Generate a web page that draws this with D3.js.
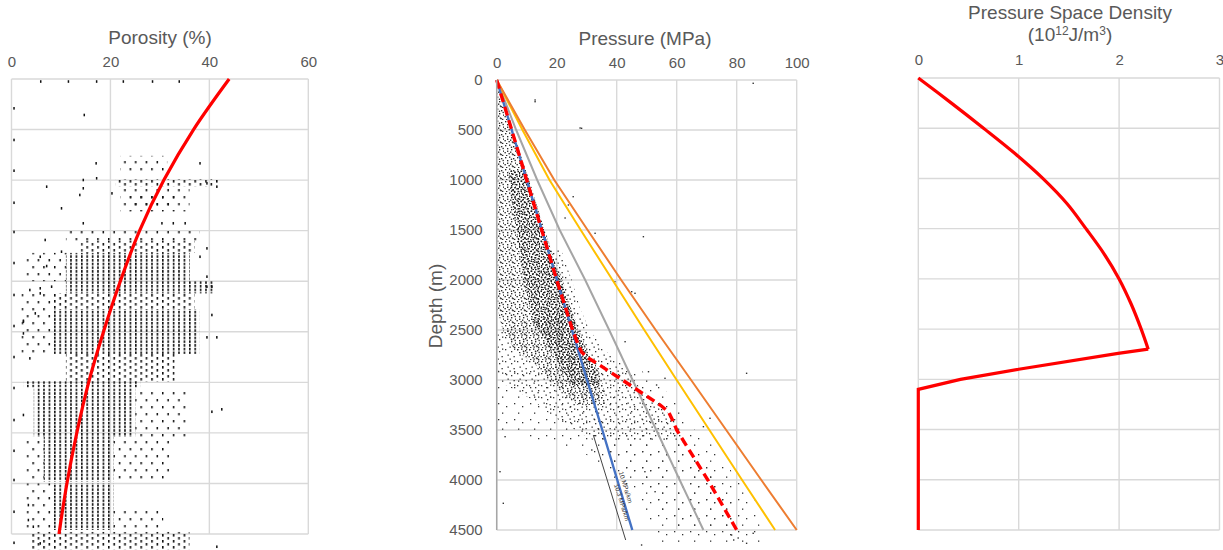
<!DOCTYPE html>
<html><head><meta charset="utf-8">
<script src="https://cdn.jsdelivr.net/npm/d3@7"></script>
<style>body{margin:0;background:#fff;} svg{display:block;font-family:"Liberation Sans", Arial, sans-serif;}</style>
</head><body><svg id="c" width="1223" height="550"></svg>
<script>
// ================= DATA =================
const depthTicks = [0,500,1000,1500,2000,2500,3000,3500,4000,4500];
const porosityTicks = [0,20,40,60];
const pressureTicks = [0,20,40,60,80,100];
const densityTicks = [0,1,2,3];

// Porosity trend (red curve)
const porTrendDepth = [0,500,1000,1500,2000,2500,3000,3500,4000,4500];
const porTrendValue = [44.0,36.8,30.8,25.9,22.0,18.6,15.6,13.2,11.2,9.6];

// Porosity scatter: clusters of dot columns [depthTop, depthBottom, porMin, porMax, density]
const porosityZones = [
  [760,930,22,31.5,'s'],[990,1060,21,42,'m'],[1080,1310,22,36,'s'],[1150,1300,24,33,'s'],
  [1500,1600,11,38,'s'],[1600,1720,14,37,'m'],[1720,2000,11,36,'d'],[1720,2000,3,11,'s'],
  [2000,2120,11,41,'d'],[2120,2280,8,37,'m'],[2280,2720,8,38,'d'],[2120,2720,2,8,'s'],
  [2720,2990,11,33,'m'],[2990,3050,2.5,26,'d'],[3060,3540,4.5,25,'d'],[3060,3540,25,35.5,'s'],
  [3540,3980,6.5,20.6,'d'],[3540,3980,20.6,32,'s'],[3540,3980,3,6.5,'s'],
  [4000,4460,8.5,20.6,'d'],[4000,4460,3,8.5,'s'],[4250,4460,20.6,30.7,'s'],[4480,4650,3.8,36,'m']
];
// Porosity individual points [porosity, depth]
const porosityPoints = [
  [0.5,290],[0.5,603],[0.5,907],[0.5,1224],[0.5,1513],[0.5,1820],[0.5,2136],[0.5,2443],[0.5,2750],
  [0.5,3056],[0.5,3373],[0.5,3677],[0.5,3966],[0.5,4280],[0.5,4587],
  [5.9,25],[11.5,25],[17.2,25],[22.6,25],[28.5,25],[33.9,25],
  [14.7,356],[17.1,834],[38.1,834],[7.1,1065],[14.5,999],[14.5,1081],[13.8,1147],[10.1,1279],[17.2,982],
  [20.3,1131],[41.5,1065],[39.5,1032],[14.5,1427],[30.4,1427],[32.7,1427],[35.1,1427],[6.8,1592],
  [5.8,1758],[7.1,1850],[10.1,1708],[3.7,2087],[5.8,2070],[8.1,2054],[2.4,2400],[4.8,2318],
  [39.5,2054],[40.5,2054],[40.5,2334],[39.5,1955],[38.1,1758],[39.5,1675],[5.8,2120],[41.5,2555],
  [39.5,2555],[2.4,2391],[2.4,2516],[3.7,2763],[40.5,3291],[42.5,3267],[2.4,3323],[3.4,4214],
  [3.4,4362],[4.4,4428],[41.5,4626],[5.8,4593]
];

// Pressure lines (depth in m, pressure in MPa)
const pressureDepth = [0,500,1000,1500,2000,2500,3000,3500,4000,4500];
const orangeP = [0,9.4,19.2,30.3,41.5,53.0,64.8,76.5,88.2,100];
const yellowP = [0,8.6,17.6,28.0,38.6,49.2,60.0,70.9,81.8,92.8];
const grayP   = [0,6.5,13.5,21.0,29.5,37.5,45.3,53.2,61.0,68.9];
const blueP   = [0,5.0,10.0,15.1,20.1,25.1,30.1,35.2,40.2,45.2];
const redDepth = [0,500,1000,1500,2000,2500,2650,2720,2780,2850,3070,3250,3320,3400,3500,4000,4500];
const redP     = [0,5.0,10.0,15.0,20.0,25.3,27.2,28.3,30.5,34.3,45.4,54.5,57.3,58.6,60.0,70.4,80.0];
const blackDepth = [3550,4600];
const blackP = [32.2,43.0];
const gradientLabels = ['10 MPa/km','10.3 MPa/km'];
const gradientLabelDepth = [4080,4230];
const gradientLabelP = [42.3,41.0];

// Pressure scatter envelopes [depth, pMin, pMax]
const pressureDenseZone = [[60,0.3,0.8],[300,0.3,3.4],[600,0.3,6.4],[1000,0.3,10.8],[1500,0.3,16],[1800,0.3,19.5],[2000,0.3,22],[2300,0.3,25],[2500,2,27.5],[2700,6,30],[2850,13,33],[3000,17,35],[3150,23,36],[3250,27,36.5]];
const pressureCoreZone = [[900,4,9.8],[1200,5,12.8],[1600,7,17],[2000,9,21.5],[2400,12,26],[2700,18,29.5],[2900,22,33],[3050,25,34]];
const pressureMediumZone = [[1700,18,21.5],[2000,19,25],[2300,22,28],[2500,0.3,31],[2700,0.3,36],[2900,0.5,44],[3050,3,47],[3200,12,52],[3350,18,58],[3500,26,61],[3600,32,62]];
const pressureSparseZone = [[2900,0.3,48],[3200,0.3,60],[3500,0.3,66],[3700,28,74],[4000,40,80],[4200,48,86],[4500,52,88],[4650,55,88]];
const pressureSparseCore = [[3500,32,62],[3800,38,68],[4000,48,74],[4300,55,80],[4500,60,82]];
// Pressure individual points [depth, pressure]
const pressurePoints = [
  [217,12.8],[480,27.8],[200,12.8],[483,28.3],[1167,25.5],[1250,23.9],[1380,22.8],[1533,32.8],[1567,48.9],
  [2017,39.4],[2117,45],[2133,46.1],[2617,42.8],[2917,50.6],[2983,56.1],[3050,53.3],[2933,83.3],[3383,71.1],
  [3467,68.9],[3617,62.2],[4233,2.2],[3917,1.1],[3567,2.8],[4650,48.3],[4633,83.3],[4533,85.5],[4550,78.3],
  [33,85.5],[3700,31.7],[3917,49.4],[4117,52.8],[4580,80.5],[4600,79.0]
];

// Pressure space density curve
const densDepth = [0,250,500,750,1000,1250,1500,1750,2000,2250,2500,2700,2742,2900,3000,3100,4500];
const densValue = [0,0.33,0.65,0.96,1.24,1.48,1.67,1.85,2.0,2.12,2.22,2.29,1.99,1.0,0.42,0,0];

// ================= DRAW =================
const svg = d3.select('#c');
const defs = svg.append('defs');
const txt = '#595959', grid = '#d9d9d9';
const FONT = '"Liberation Sans", Arial, sans-serif';

function pattern(id, w, h, rects, fill){
  const p = defs.append('pattern').attr('id',id).attr('patternUnits','userSpaceOnUse').attr('width',w).attr('height',h);
  rects.forEach(r=>p.append('rect').attr('x',r[0]).attr('y',r[1]).attr('width',r[2]).attr('height',r[3]).attr('fill',fill));
}
pattern('porD',5.4,3.7,[[0,0,1.6,2.6]],'#111');
pattern('porM',10.8,6,[[0,0,1.6,2.6],[5.4,3,1.6,2.6]],'#111');
pattern('porS',10.8,14,[[0,0,1.5,2.4],[5.4,7,1.5,2.4]],'#111');
const dotsD = [[1,1],[5,0.5],[9,2],[3,4],[7,5],[11,6.5],[0.5,8],[4.5,9],[8.5,10],[2,11],[6,7.5],[10,10.8],[10.5,3.8],[3,6.6],[6.8,2.6],[7.8,9.4]];
pattern('prD',12,12,dotsD.map(d=>[d[0],d[1],1.35,1.35]),'#2a2a2a');
const dotsC = [[0.5,0.5],[4,1.5],[7.5,0.8],[2,3.5],[6,4],[9,5.5],[0.8,6.5],[4.2,7],[7.5,8],[2.5,9],[5.8,9.6],[9,2.8]];
pattern('prC',10,10,dotsC.map(d=>[d[0],d[1],1.5,1.5]),'#1a1a1a');
pattern('prM',12,12,[[1,1],[7,3],[3.5,6.5],[9.5,8],[5.5,10.5],[10,0.5]].map(d=>[d[0],d[1],1.3,1.3]),'#333');
pattern('prS',16,16,[[2,3],[10,6],[6,12.5]].map(d=>[d[0],d[1],1.3,1.3]),'#333');

function xAxisLabels(g, scale, ticks, y0, pad){
  const a = d3.axisTop(scale).tickValues(ticks).tickSize(0).tickPadding(pad).tickFormat(d3.format('d'));
  const ax = g.append('g').attr('transform',`translate(0,${y0})`).call(a);
  ax.select('.domain').remove();
  ax.selectAll('text').attr('fill',txt).style('font-size','15px').style('font-family',FONT);
}
function gridLines(g, xs, ys, xt, yt){
  const [x0,x1] = xs.range(), [y0,y1] = ys.range();
  g.append('g').selectAll('line').data(yt).join('line')
    .attr('x1',x0).attr('x2',x1).attr('y1',d=>ys(d)).attr('y2',d=>ys(d)).attr('stroke',grid).attr('stroke-width',1.4);
  g.append('g').selectAll('line').data(xt).join('line')
    .attr('x1',d=>xs(d)).attr('x2',d=>xs(d)).attr('y1',y0).attr('y2',y1).attr('stroke',grid).attr('stroke-width',1.4);
}

// ---------- Panel 1: Porosity ----------
const xPor = d3.scaleLinear().domain([0,60]).range([11.5,308.3]);
const yPor = d3.scaleLinear().domain([0,4500]).range([79,534]);
const g1 = svg.append('g');
gridLines(g1, xPor, yPor, porosityTicks, depthTicks);
g1.append('g').selectAll('rect').data(porosityZones).join('rect')
  .attr('x',d=>xPor(d[2])).attr('y',d=>yPor(d[0]))
  .attr('width',d=>xPor(d[3])-xPor(d[2])).attr('height',d=>yPor(d[1])-yPor(d[0]))
  .attr('fill',d=>`url(#por${d[4].toUpperCase()})`);
g1.append('g').selectAll('rect').data(porosityPoints).join('rect')
  .attr('x',d=>xPor(d[0])-0.7).attr('y',d=>yPor(d[1])-1.3).attr('width',1.5).attr('height',2.6).attr('fill','#111');
g1.append('path').datum(porTrendDepth.map((d,i)=>[porTrendValue[i],d]))
  .attr('d',d3.line().x(d=>xPor(d[0])).y(d=>yPor(d[1])).curve(d3.curveCatmullRom.alpha(0.5)))
  .attr('fill','none').attr('stroke','#ff0000').attr('stroke-width',3.2);
xAxisLabels(g1, xPor, porosityTicks, 79, 12);
g1.append('text').attr('x',160).attr('y',44).attr('text-anchor','middle').attr('fill',txt).style('font-size','19px').text('Porosity (%)');

// ---------- Panel 2: Pressure ----------
const xPr = d3.scaleLinear().domain([0,100]).range([496.7,796.7]);
const yPr = d3.scaleLinear().domain([0,4500]).range([80,530]);
const g2 = svg.append('g');
gridLines(g2, xPr, yPr, pressureTicks, depthTicks);
const zoneArea = d3.area().y(d=>yPr(d[0])).x0(d=>xPr(d[1])).x1(d=>xPr(d[2])).curve(d3.curveLinear);
[[pressureSparseZone,'prS'],[pressureSparseCore,'prS'],[pressureMediumZone,'prM'],[pressureDenseZone,'prD'],[pressureCoreZone,'prC']]
  .forEach(z=>g2.append('path').attr('d',zoneArea(z[0])).attr('fill',`url(#${z[1]})`));
g2.append('g').selectAll('rect').data(pressurePoints).join('rect')
  .attr('x',d=>xPr(d[1])-0.7).attr('y',d=>yPr(d[0])-0.7).attr('width',1.4).attr('height',1.4).attr('fill','#333');
const pLine = d3.line().x(d=>xPr(d[1])).y(d=>yPr(d[0]));
const series = (ps)=>pressureDepth.map((d,i)=>[d,ps[i]]);
g2.append('path').attr('d',pLine(series(grayP))).attr('fill','none').attr('stroke','#a5a5a5').attr('stroke-width',2);
g2.append('path').attr('d',pLine(series(yellowP))).attr('fill','none').attr('stroke','#ffc000').attr('stroke-width',2);
g2.append('path').attr('d',pLine(series(orangeP))).attr('fill','none').attr('stroke','#ed7d31').attr('stroke-width',2);
g2.append('path').attr('d',pLine(blackDepth.map((d,i)=>[d,blackP[i]]))).attr('fill','none').attr('stroke','#444').attr('stroke-width',1);
g2.append('path').attr('d',pLine(series(blueP))).attr('fill','none').attr('stroke','#4472c4').attr('stroke-width',2.4);
g2.append('path').attr('d',pLine(redDepth.map((d,i)=>[d,redP[i]])))
  .attr('fill','none').attr('stroke','#ff0000').attr('stroke-width',3.4).attr('stroke-dasharray','9,5');
const ang = Math.atan2(yPr(blackDepth[1])-yPr(blackDepth[0]), xPr(blackP[1])-xPr(blackP[0]))*180/Math.PI;
g2.append('g').selectAll('text').data(gradientLabels).join('text')
  .attr('transform',(d,i)=>`translate(${xPr(gradientLabelP[i])},${yPr(gradientLabelDepth[i])}) rotate(${ang})`)
  .attr('text-anchor','middle').attr('fill','#333').style('font-size','6.5px').text(d=>d);
g2.append('line').attr('x1',xPr(0)).attr('x2',xPr(0)).attr('y1',yPr(0)).attr('y2',yPr(4500)).attr('stroke','#a6a6a6').attr('stroke-width',1.5);
xAxisLabels(g2, xPr, pressureTicks, 80, 12);
const ay = g2.append('g').attr('transform','translate(496.7,0)')
  .call(d3.axisLeft(yPr).tickValues(depthTicks).tickSize(0).tickPadding(14).tickFormat(d3.format('d')));
ay.select('.domain').remove();
ay.selectAll('text').attr('fill',txt).style('font-size','15px').style('font-family',FONT);
g2.append('text').attr('x',645).attr('y',45).attr('text-anchor','middle').attr('fill',txt).style('font-size','19px').text('Pressure (MPa)');
g2.append('text').attr('transform','translate(442,306) rotate(-90)').attr('text-anchor','middle').attr('fill',txt).style('font-size','19px').text('Depth (m)');

// ---------- Panel 3: Density ----------
const xDe = d3.scaleLinear().domain([0,3]).range([918.3,1219.5]);
const yDe = d3.scaleLinear().domain([0,4500]).range([78,530]);
const g3 = svg.append('g');
gridLines(g3, xDe, yDe, densityTicks, depthTicks);
const dPts = densDepth.map((d,i)=>[densValue[i],d]);
const peak = densValue.indexOf(d3.max(densValue));
const dLine = d3.line().x(d=>xDe(d[0])).y(d=>yDe(d[1]));
g3.append('path').attr('d',dLine.curve(d3.curveCatmullRom.alpha(0.5))(dPts.slice(0,peak+1)))
  .attr('fill','none').attr('stroke','#ff0000').attr('stroke-width',3.2);
g3.append('path').attr('d',dLine.curve(d3.curveLinear)(dPts.slice(peak)))
  .attr('fill','none').attr('stroke','#ff0000').attr('stroke-width',3.2).attr('stroke-linejoin','miter');
xAxisLabels(g3, xDe, densityTicks, 78, 13);
g3.append('text').attr('x',1070).attr('y',19).attr('text-anchor','middle').attr('fill',txt).style('font-size','19px').text('Pressure Space Density');
const t4 = g3.append('text').attr('x',1070).attr('y',41).attr('text-anchor','middle').attr('fill',txt).style('font-size','19px');
t4.append('tspan').text('(10');
t4.append('tspan').attr('dy',-6.5).style('font-size','12px').text('12');
t4.append('tspan').attr('dy',6.5).text('J/m');
t4.append('tspan').attr('dy',-6.5).style('font-size','12px').text('3');
t4.append('tspan').attr('dy',6.5).text(')');
</script></body></html>
